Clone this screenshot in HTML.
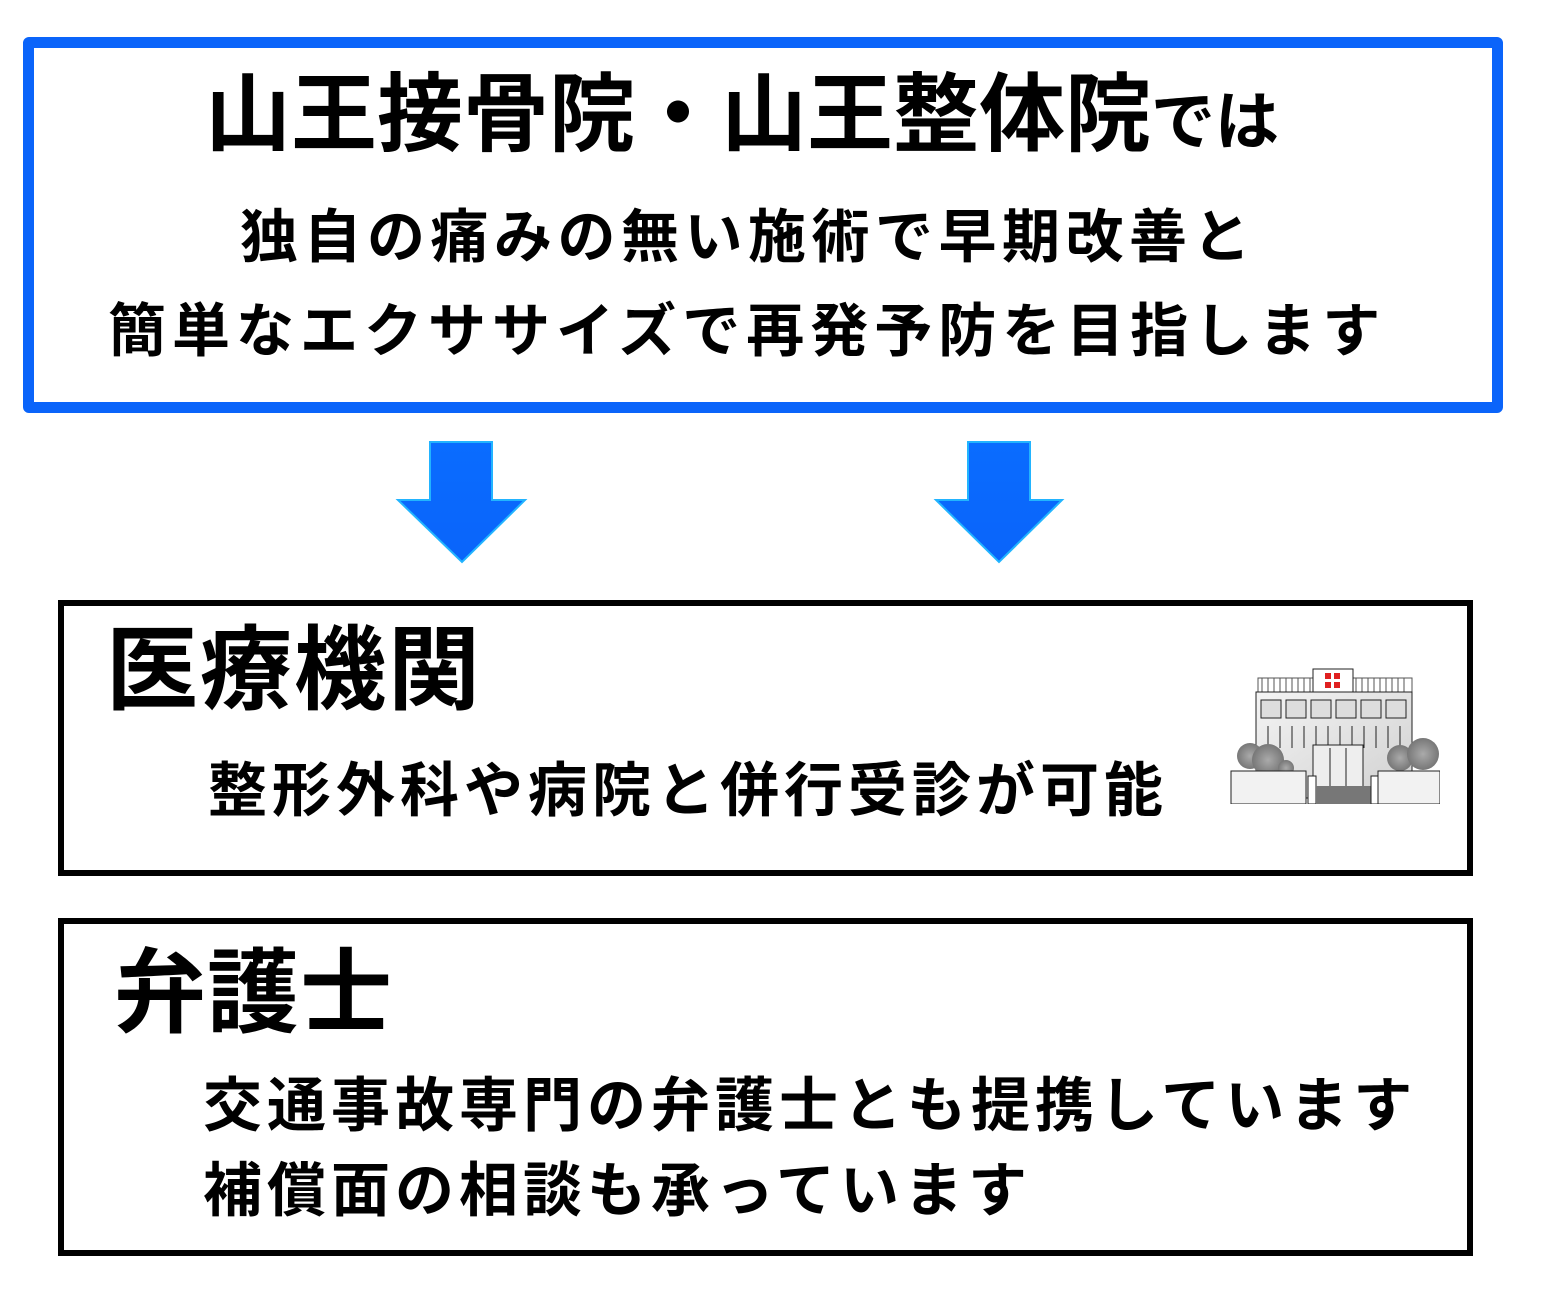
<!DOCTYPE html>
<html><head><meta charset="utf-8"><style>
html,body{margin:0;padding:0;width:1560px;height:1300px;background:#fff;overflow:hidden}
.t{position:absolute;white-space:nowrap;font-family:"Liberation Sans","Noto Sans CJK JP",sans-serif;font-weight:bold;color:#000;line-height:1}
.box{position:absolute;box-sizing:border-box;background:#fff}
</style></head><body>
<div class="box" style="left:23px;top:37px;width:1480px;height:376px;border:11px solid #0a64fa;border-radius:6px"></div>
<div class="t" style="left:205px;top:72px;font-size:86px;letter-spacing:0px">山王接骨院・山王整体院<span style="font-size:64px;letter-spacing:0px">では</span></div>
<div class="t" style="left:240px;top:209px;font-size:58px;letter-spacing:5.5px">独自の痛みの無い施術で早期改善と</div>
<div class="t" style="left:108px;top:303px;font-size:58px;letter-spacing:6px">簡単なエクササイズで再発予防を目指します</div>

<svg style="position:absolute;left:0;top:0" width="1560" height="600">
<defs><linearGradient id="g" x1="0" y1="0" x2="0" y2="1"><stop offset="0" stop-color="#0a6cff"/><stop offset="1" stop-color="#0a64fa"/></linearGradient></defs>
<polygon points="430,442 492,442 492,500 525,500 462,562 398,500 430,500" fill="url(#g)" stroke="#22b4ff" stroke-width="2"/>
<polygon points="968,442 1030,442 1030,500 1062,500 999,562 936,500 968,500" fill="url(#g)" stroke="#22b4ff" stroke-width="2"/>
</svg>

<div class="box" style="left:58px;top:600px;width:1415px;height:276px;border:6px solid #000"></div>
<div class="t" style="left:106px;top:625px;font-size:92px;letter-spacing:2px">医療機関</div>
<div class="t" style="left:208px;top:762px;font-size:59px;letter-spacing:5px">整形外科や病院と併行受診が可能</div>

<svg style="position:absolute;left:1228px;top:668px" width="212" height="136" viewBox="0 0 212 136">
<defs><linearGradient id="w" x1="0" y1="0" x2="1" y2="1"><stop offset="0" stop-color="#f4f4f4"/><stop offset="1" stop-color="#d0d0d0"/></linearGradient>
<radialGradient id="tr"><stop offset="0" stop-color="#aaa"/><stop offset="1" stop-color="#777"/></radialGradient></defs>
<rect x="30" y="10" width="154" height="14" fill="#fff" stroke="#555"/>
<g stroke="#555" stroke-width="1">
<path d="M34 10v14M40 10v14M46 10v14M52 10v14M58 10v14M64 10v14M70 10v14M76 10v14M82 10v14M128 10v14M134 10v14M140 10v14M146 10v14M152 10v14M158 10v14M164 10v14M170 10v14M176 10v14"/>
</g>
<rect x="85" y="1" width="40" height="24" fill="#fff" stroke="#222"/>
<rect x="97" y="5" width="6" height="6" fill="#e02020"/><rect x="106" y="5" width="6" height="6" fill="#e02020"/>
<rect x="97" y="14" width="6" height="6" fill="#e02020"/><rect x="106" y="14" width="6" height="6" fill="#e02020"/>
<rect x="28" y="24" width="156" height="106" fill="url(#w)" stroke="#222"/>
<g fill="#ddd" stroke="#222">
<rect x="33" y="32" width="20" height="18"/><rect x="58" y="32" width="20" height="18"/><rect x="83" y="32" width="20" height="18"/><rect x="108" y="32" width="20" height="18"/><rect x="133" y="32" width="20" height="18"/><rect x="158" y="32" width="20" height="18"/>
</g>
<g stroke="#222"><path d="M40 58v22M52 58v22M64 58v22M76 58v22M88 58v22M100 58v22M112 58v22M124 58v22M136 58v22M148 58v22M160 58v22M172 58v22"/></g>
<rect x="85" y="77" width="50" height="52" fill="#eee" stroke="#222"/>
<path d="M102 80v40M118 80v40" stroke="#222"/>
<rect x="150" y="110" width="62" height="26" fill="#f2f2f2" stroke="#222"/>
<rect x="80" y="108" width="8" height="28" fill="#fff" stroke="#222"/>
<rect x="88" y="118" width="55" height="18" fill="#777"/>
<rect x="143" y="108" width="8" height="28" fill="#fff" stroke="#222"/>
<circle cx="22" cy="88" r="13" fill="url(#tr)"/><circle cx="40" cy="92" r="16" fill="url(#tr)"/><circle cx="58" cy="100" r="8" fill="url(#tr)"/>
<rect x="3" y="103" width="75" height="33" fill="#f2f2f2" stroke="#222"/>
<circle cx="172" cy="90" r="13" fill="url(#tr)"/><circle cx="195" cy="86" r="16" fill="url(#tr)"/>
<rect x="150" y="103" width="62" height="33" fill="#f2f2f2" stroke="#222"/>
</svg>

<div class="box" style="left:58px;top:918px;width:1415px;height:338px;border:6px solid #000"></div>
<div class="t" style="left:114px;top:948px;font-size:92px;letter-spacing:1px">弁護士</div>
<div class="t" style="left:203px;top:1077px;font-size:59px;letter-spacing:5px">交通事故専門の弁護士とも提携しています</div>
<div class="t" style="left:203px;top:1162px;font-size:59px;letter-spacing:5px">補償面の相談も承っています</div>
</body></html>
